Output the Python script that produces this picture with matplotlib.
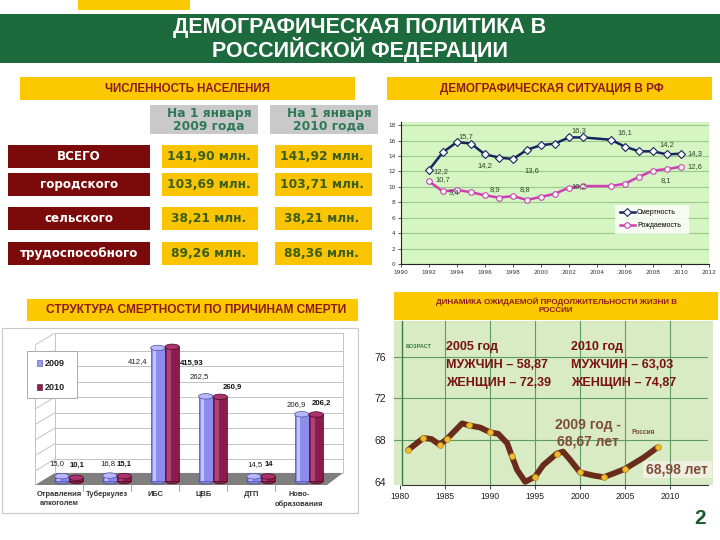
import matplotlib
matplotlib.use("Agg")
import matplotlib.pyplot as plt
from matplotlib.patches import Rectangle, Ellipse, Polygon
import numpy as np

W, H = 720, 540

# ---------------- data ----------------
pop_cols = ["На 1 января\n2009 года", "На 1 января\n2010 года"]
pop_rows = ["ВСЕГО", "городского", "сельского", "трудоспособного"]
pop_2009 = ["141,90 млн.", "103,69 млн.", "38,21 млн.", "89,26 млн."]
pop_2010 = ["141,92 млн.", "103,71 млн.", "38,21 млн.", "88,36 млн."]

demo_years = [1992, 1993, 1994, 1995, 1996, 1997, 1998, 1999, 2000, 2001, 2002, 2003,
              2005, 2006, 2007, 2008, 2009, 2010]
death_rate = [12.2, 14.5, 15.8, 15.6, 14.2, 13.8, 13.6, 14.8, 15.4, 15.6, 16.4, 16.4,
              16.1, 15.2, 14.6, 14.6, 14.2, 14.3]
birth_rate = [10.7, 9.4, 9.6, 9.3, 8.9, 8.6, 8.8, 8.3, 8.7, 9.1, 9.9, 10.1,
              10.1, 10.4, 11.3, 12.1, 12.3, 12.6]
# data labels shown on the chart: (index into demo_years, text)
death_labels = [(0, "12,2"), (2, "15,7"), (4, "14,2"), (6, "13,6"), (11, "16,3"),
                (12, "16,1"), (16, "14,2"), (17, "14,3")]
birth_labels = [(0, "10,7"), (1, "9,4"), (4, "8,9"), (6, "8,8"), (11, "10,2"),
                (16, "8,1"), (17, "12,6")]

causes = ["Отравления\nалкоголем", "Туберкулез", "ИБС", "ЦВБ", "ДТП", "Ново-\nобразования"]
deaths_2009 = [15.0, 16.8, 412.4, 262.5, 14.5, 206.9]
deaths_2010 = [10.1, 15.1, 415.93, 260.9, 14.0, 206.2]
labels_2009 = ["15,0", "16,8", "412,4", "262,5", "14,5", "206,9"]
labels_2010 = ["10,1", "15,1", "415,93", "260,9", "14", "206,2"]

life_years = [1980.9, 1982.6, 1983.5, 1984.4, 1985.2, 1986.9, 1987.7, 1988.9, 1990.0,
              1990.9, 1991.9, 1992.4, 1993.0, 1993.9, 1995.0, 1995.9, 1997.4, 1998.1,
              1998.9, 2000.0, 2001.5, 2002.6, 2003.7, 2005.0, 2007.0, 2008.6]
life_exp = [67.05, 68.2, 68.1, 67.55, 68.1, 69.6, 69.4, 69.2, 68.75,
            68.6, 67.7, 66.5, 65.15, 64.0, 64.5, 65.6, 66.7, 66.9,
            66.1, 64.9, 64.6, 64.45, 64.8, 65.25, 66.3, 67.3]
life_marked = [0, 1, 3, 4, 6, 8, 11, 14, 16, 19, 21, 23, 25]

# ---------------- helpers ----------------
fig = plt.figure(figsize=(7.2, 5.4), dpi=100)
fig.patch.set_facecolor("white")
SANS = ["Liberation Sans", "DejaVu Sans"]
WIDE = ["DejaVu Sans"]


def fr(x0, y0, x1, y1):
    return [x0 / W, 1 - y1 / H, (x1 - x0) / W, (y1 - y0) / H]


def box(x0, y0, x1, y1, fc, ec="none", lw=0.0, z=-1):
    fig.patches.append(Rectangle((x0 / W, 1 - y1 / H), (x1 - x0) / W, (y1 - y0) / H,
                                 transform=fig.transFigure, facecolor=fc,
                                 edgecolor=ec, linewidth=lw, zorder=z))


def txt(x, y, s, **kw):
    kw.setdefault("family", SANS)
    kw.setdefault("ha", "center")
    kw.setdefault("va", "center")
    return fig.text(x / W, 1 - y / H, s, **kw)


YELLOW = "#fcc900"
DARKRED = "#8b1a1a"

# ---------------- header ----------------
box(78, 0, 190, 10, YELLOW)
box(0, 14, 720, 63, "#1d6a3c")
txt(360, 28, "ДЕМОГРАФИЧЕСКАЯ ПОЛИТИКА В", color="white", fontsize=15.5, weight="bold")
txt(360, 50, "РОССИЙСКОЙ ФЕДЕРАЦИИ", color="white", fontsize=15.5, weight="bold")

box(20, 77, 355, 100, YELLOW)
txt(187, 89, "ЧИСЛЕННОСТЬ НАСЕЛЕНИЯ", color=DARKRED, fontsize=8.3, weight="bold")
box(387, 77, 712, 100, YELLOW)
txt(552, 89, "ДЕМОГРАФИЧЕСКАЯ СИТУАЦИЯ В РФ", color=DARKRED, fontsize=8.5, weight="bold")
box(27, 299, 358, 321, YELLOW)
txt(196, 310, "СТРУКТУРА СМЕРТНОСТИ ПО ПРИЧИНАМ СМЕРТИ", color=DARKRED, fontsize=8.6, weight="bold")
box(394, 292, 718, 320, YELLOW)
txt(556, 306, "ДИНАМИКА ОЖИДАЕМОЙ ПРОДОЛЖИТЕЛЬНОСТИ ЖИЗНИ В\nРОССИИ", color=DARKRED,
    fontsize=5.8, weight="bold", linespacing=1.2)

# ---------------- population table ----------------
col_x = [(150, 258), (270, 378)]
for (x0, x1), s in zip(col_x, pop_cols):
    box(x0, 105, x1, 134, "#c9c9c9")
    txt((x0 + x1) / 2 + 5, 119.5, s, color="#2e7a58", fontsize=8.8, weight="bold",
        family=WIDE, linespacing=1.0)

row_y = [(145, 168), (173, 196), (207, 230), (242, 265)]
for (y0, y1), name, v9, v10 in zip(row_y, pop_rows, pop_2009, pop_2010):
    box(8, y0, 150, y1, "#7b0a0a")
    txt(79, (y0 + y1) / 2, name, color="white", fontsize=8.6, weight="bold", family=WIDE)
    box(162, y0, 258, y1, "#fac500")
    txt(209, (y0 + y1) / 2, v9, color="#3c5e1c", fontsize=8.8, weight="bold", family=WIDE)
    box(275, y0, 372, y1, "#fac500")
    txt(322, (y0 + y1) / 2, v10, color="#3c5e1c", fontsize=8.8, weight="bold", family=WIDE)

# ---------------- demographic situation ----------------
ax1 = fig.add_axes(fr(401, 122, 709, 264))
ax1.set_facecolor("#d5f5c3")
ax1.set_xlim(1990, 2012)
ax1.set_ylim(0, 18.4)
ax1.set_yticks(np.arange(0, 19, 2))
ax1.set_xticks(np.arange(1990, 2013, 2))
ax1.grid(axis="y", color="#9dc98b", lw=0.8)
ax1.set_axisbelow(True)
for sp in ["top", "right"]:
    ax1.spines[sp].set_visible(False)
for sp in ["left", "bottom"]:
    ax1.spines[sp].set_color("#222222")
    ax1.spines[sp].set_linewidth(0.8)
ax1.tick_params(labelsize=4.2, colors="#333333", length=2, width=0.6, pad=2)
ax1.plot(demo_years, death_rate, color="#15265e", lw=1.8, marker="D", ms=3.6,
         mfc="white", mec="#15265e", mew=0.8, label="Смертность")
ax1.plot(demo_years, birth_rate, color="#cc3fb5", lw=1.8, marker="o", ms=4,
         mfc="white", mec="#cc3fb5", mew=0.8, label="Рождаемость")
death_off = {0: (3, -1.5, "left"), 2: (1, 4, "left"), 4: (0, -8, "center"), 6: (8, -8, "left"),
             11: (-3, 5, "center"), 12: (5, 5, "left"), 16: (0, 7, "center"), 17: (5, 0, "left")}
for i, s in death_labels:
    dx, dy, ha = death_off[i]
    ax1.annotate(s, (demo_years[i], death_rate[i]), xytext=(dx, dy), textcoords="offset points",
                 fontsize=5.5, color="#2e4a24", ha=ha, va="center", family=SANS)
birth_off = {0: (5, 1, "left"), 1: (4, -1, "left"), 4: (3, 4, "left"), 6: (5, 5, "left"),
             11: (-3, 0, "center"), 16: (-1, -8, "center"), 17: (5, 0, "left")}
for i, s in birth_labels:
    dx, dy, ha = birth_off[i]
    ax1.annotate(s, (demo_years[i], birth_rate[i]), xytext=(dx, dy), textcoords="offset points",
                 fontsize=5.5, color="#2e4a24", ha=ha, va="center", family=SANS)
leg = ax1.legend(loc="lower left", bbox_to_anchor=((612 - 401) / 308, (264 - 237) / 142,
                                                   (692 - 612) / 308, (237 - 207) / 142),
                 mode="expand", frameon=True, fancybox=False,
                 handlelength=2.2, borderpad=0.6, labelspacing=0.9, handletextpad=0.3,
                 prop={"family": SANS, "size": 5})
leg.get_frame().set_edgecolor("white")
leg.get_frame().set_linewidth(0)

# ---------------- mortality structure (pseudo-3D bars) ----------------
box(2, 328, 358, 513, "white", ec="#c8c8c8", lw=0.8)
ax2 = fig.add_axes(fr(35, 333, 345, 485))
PX = 1 / 48  # one pixel in bar-axis x units
ax2.set_xlim((35 - 69) * PX, (345 - 69) * PX)
ax2.set_ylim(-12.4, 458.8)
ax2.axis("off")
ax2.patch.set_visible(False)
xl, xb, xr, xrb = (35 - 69) * PX, (55 - 69) * PX, (327 - 69) * PX, (343 - 69) * PX
gray = "#c4c4c4"
for g in list(20 + 48 * np.arange(1, 9)) + [458.8]:
    ax2.plot([xb, xrb], [g, g], color=gray, lw=0.7)
    ax2.plot([xl, xb], [g - 37, g], color=gray, lw=0.7)
ax2.plot([xb, xb], [25, 458.8], color=gray, lw=0.7)
ax2.plot([xrb, xrb], [25, 458.8], color=gray, lw=0.7)
ax2.plot([xl, xl], [-12, 420], color=gray, lw=0.7)
ax2.add_patch(Polygon([[xl, -12.4], [xr, -12.4], [xrb, 25], [xb, 25]], closed=True,
                      facecolor="#7f7f7f", edgecolor="none"))

xc = np.arange(len(causes))
bw = 0.3
eh = 17
for vals, off, body, top, hi, edge in [
        (deaths_2009, -0.15, "#8c8cec", "#b8b8ff", "#c4c4ff", "#4c4c9c"),
        (deaths_2010, 0.15, "#8a1d4d", "#a8346a", "#ad4479", "#4e0a26")]:
    ax2.bar(xc + off, vals, width=bw, color=body, edgecolor=edge, linewidth=0.5, zorder=3)
    ax2.bar(xc + off - bw * 0.22, vals, width=bw * 0.22, color=hi, linewidth=0, zorder=3.1)
    for x, v in zip(xc + off, vals):
        ax2.add_patch(Ellipse((x, 0), bw, eh, facecolor=body, edgecolor=edge, lw=0.5, zorder=2.9))
        ax2.add_patch(Ellipse((x, v), bw, eh, facecolor=top, edgecolor=edge, lw=0.5, zorder=4))

# label placement: (x shift in px, y shift in value units, alignment)
pos_2009 = [(-5, 38, "center"), (-2, 38, "center"), (-10, -43, "right"),
            (-6, 60, "center"), (1, 38, "center"), (-5, 29, "center")]
pos_2010 = [(1, 38, "center"), (0, 38, "center"), (8, -50, "left"),
            (2, 30, "left"), (1, 38, "center"), (5, 33, "center")]
for i in range(len(causes)):
    dx, dy, ha = pos_2009[i]
    ax2.text(xc[i] - 0.15 + dx * PX, deaths_2009[i] + dy, labels_2009[i], ha=ha,
             va="center", fontsize=5.6, color="#222222", family=SANS, zorder=5)
    dx, dy, ha = pos_2010[i]
    ax2.text(xc[i] + 0.15 + dx * PX, deaths_2010[i] + dy, labels_2010[i], ha=ha,
             va="center", fontsize=5.6, color="#111111", weight="bold", family=SANS, zorder=5)
for i, name in enumerate(causes):
    ax2.text(xc[i] - 0.2, -30, name, ha="center", va="top", fontsize=5.4, weight="bold",
             color="#333333", family=SANS, linespacing=1.5)
for i in range(len(causes) - 1):
    ax2.plot([i + 0.3, i + 0.3], [-12.4, -30], color="#999999", lw=0.6, clip_on=False)

box(27, 351, 77, 398, "white", ec="#aaaaaa", lw=0.7, z=2)
box(37, 360, 42, 366, "#9a9af5", ec="#4c4c9c", lw=0.4, z=2.1)
txt(45, 363.5, "2009", fontsize=6.5, weight="bold", color="#222222", ha="left")
box(37, 384, 42, 390, "#8e1f50", ec="#4e0a26", lw=0.4, z=2.1)
txt(45, 387.5, "2010", fontsize=6.5, weight="bold", color="#222222", ha="left")

# ---------------- life expectancy ----------------
box(394, 321, 713, 485, "#d8ebc5")
ax3 = fig.add_axes(fr(394, 321, 708, 485))
ax3.patch.set_visible(False)
ax3.set_xlim(1979.33, 2014.2)
ax3.set_ylim(63.7, 79.4)
ax3.set_xticks(np.arange(1980, 2011, 5))
ax3.set_yticks([64, 68, 72, 76])
for v in [1985, 1990, 1995, 2000, 2005, 2010]:
    ax3.axvline(v, color="#5f9c63", lw=0.8, zorder=1)
for v in [68, 72, 76]:
    ax3.axhline(v, color="#5f9c63", lw=0.8, zorder=1)
ax3.axvline(1980.2, color="#3d7d45", lw=1.0, zorder=1)
ax3.spines["left"].set_visible(False)
ax3.spines["top"].set_visible(False)
ax3.spines["right"].set_visible(False)
ax3.spines["bottom"].set_color("#333333")
ax3.spines["bottom"].set_bounds(1980.2, 2014.2)
ax3.tick_params(axis="y", labelsize=7.5, colors="#222222", length=0, pad=6)
ax3.tick_params(axis="x", labelsize=6.2, colors="#222222", length=3, width=0.6, pad=2)
for t in ax3.get_xticklabels() + ax3.get_yticklabels():
    t.set_family(SANS)
ax3.plot(life_years, life_exp, color="#6a2c1a", lw=4.2, solid_capstyle="round",
         solid_joinstyle="round", zorder=3)
ax3.plot([life_years[i] for i in life_marked], [life_exp[i] for i in life_marked],
         ls="none", marker="o", ms=4.2, mfc="#eebc35", mec="#c58f12", mew=0.6, zorder=4)

txt(406, 347, "ВОЗРАСТ", fontsize=4, weight="bold", color="#3b7b45", ha="left")
for x0, head, men, women in [(446, "2005 год", "МУЖЧИН – 58,87", "ЖЕНЩИН – 72,39"),
                             (571, "2010 год", "МУЖЧИН – 63,03", "ЖЕНЩИН – 74,87")]:
    txt(x0, 347, head, fontsize=9, weight="bold", color="#7a1010", ha="left")
    txt(x0, 365, men, fontsize=9, weight="bold", color="#7a1010", ha="left")
    txt(x0, 383, women, fontsize=9, weight="bold", color="#7a1010", ha="left")
txt(588, 425, "2009 год -", fontsize=10, weight="bold", color="#7d4b3b")
txt(588, 441, "68,67 лет", fontsize=10, weight="bold", color="#7d4b3b")
txt(631, 433, "Россия", fontsize=4.8, weight="bold", color="#7d4b3b", ha="left")
box(643, 461, 712, 478, "#eeefdf")
txt(677, 469.5, "68,98 лет", fontsize=10, weight="bold", color="#7d4b3b")

txt(700, 518, "2", fontsize=15, weight="bold", color="#1a5a2c")

fig.savefig("out.png", dpi=100)
